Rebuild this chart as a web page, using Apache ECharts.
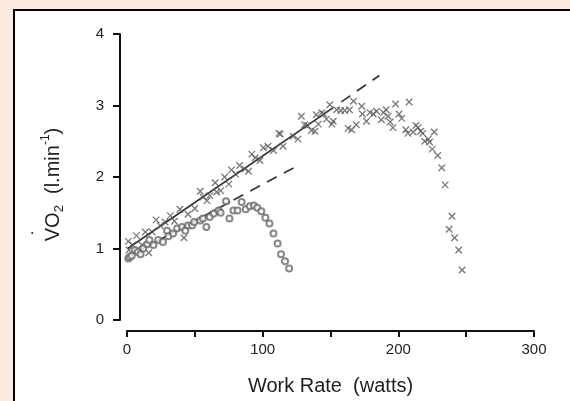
<!DOCTYPE html>
<html>
<head>
<meta charset="utf-8">
<script src="https://cdn.jsdelivr.net/npm/echarts@6/dist/echarts.min.js"></script>
<style>
  html, body { margin:0; padding:0; width:570px; height:401px; overflow:hidden; background:#fdebdf; }
  #chart { position:absolute; left:0; top:0; width:570px; height:401px; }
</style>
</head>
<body>
<div id="chart"></div>
<script>
// Tick labels
const xTicks = [0, 100, 200, 300];
const yTicks = [0, 1, 2, 3, 4];

// Upper test (crosses): [work rate W, VO2 l/min]
const crosses = [
  [1,1.10],[1.5,0.98],[4,1.05],[7,1.18],[11,1.05],[13.5,1.23],[16,0.94],[18.5,1.23],[21.5,1.40],[24.5,1.32],
  [28,1.37],[32,1.46],[35,1.38],[39,1.55],[42,1.15],[45,1.48],[50,1.56],[54,1.80],[56,1.72],[59,1.67],
  [61,1.74],[65,1.92],[66,1.79],[69,1.81],[72,2.00],[75,1.90],[77,2.10],[80,2.04],[83,2.16],[87,2.11],
  [89.5,2.08],[92,2.32],[94.5,2.27],[98,2.23],[100.5,2.41],[104,2.43],[108,2.37],[112,2.61],[113,2.60],[115,2.43],
  [122.5,2.57],[126,2.53],[128.5,2.85],[131,2.73],[133,2.72],[136,2.65],[138.5,2.64],[139.5,2.87],[141,2.74],[143.5,2.90],
  [145,2.88],[147,2.81],[149.5,3.01],[151,2.74],[152,2.78],[154.5,2.94],[157.5,2.93],[160.5,2.93],[164,2.94],[163,2.68],
  [165.5,2.66],[167,3.06],[169,2.73],[173,2.99],[173.5,2.88],[176.5,2.78],[179,2.90],[181.5,2.88],[184,2.92],[187.5,2.80],
  [189,2.90],[191,2.94],[192.5,2.85],[194,2.77],[196,2.69],[198,3.02],[200.5,2.88],[202.5,2.82],[205.5,2.66],[207,2.61],
  [208,3.05],[211,2.63],[213,2.72],[214.5,2.69],[216.5,2.64],[218,2.61],[219.5,2.50],[222,2.53],[223,2.49],[226.5,2.63],
  [225,2.39],[229,2.30],[232,2.13],[234.5,1.89],[239.5,1.45],[237.5,1.27],[241.5,1.15],[244.5,0.98],[247,0.70]
];

// Lower test (circles)
const circles = [
  [1,0.86],[2,0.88],[3.5,0.90],[6,0.98],[8,0.95],[10,0.92],[12,1.00],[15,1.06],[16.5,1.12],[19.5,1.05],
  [23,1.12],[26.5,1.09],[29.5,1.25],[30.5,1.17],[34,1.21],[37,1.28],[40.5,1.30],[43,1.25],[45,1.32],[48,1.32],
  [49.5,1.37],[54,1.39],[56,1.42],[58.5,1.30],[61,1.44],[64,1.49],[67.5,1.53],[69,1.50],[73,1.66],[75.5,1.42],
  [78.5,1.53],[81.5,1.53],[84.5,1.65],[87.5,1.55],[90.5,1.59],[93.5,1.60],[96,1.57],[99,1.52],[102,1.43],[105,1.35],
  [108,1.21],[111,1.07],[113.5,0.92],[116.5,0.82],[119.5,0.72]
];

// Regression lines (solid fit) and extrapolations (dashed)
const upperFit = [[0.5,1.00],[152,2.97]];
const upperExt = [[158,3.05],[186,3.42]];
const lowerFit = [[0.5,0.885],[76,1.65]];
const lowerExt = [[78.5,1.68],[123,2.13]];

const chart = echarts.init(document.getElementById('chart'), null, {renderer:'canvas'});
const FONT = '"Liberation Sans", Arial, sans-serif';
const ink = '#111';
const textColor = '#1e1e1e';
const markColor = '#555';
const circleColor = '#6a6a6a';
const lineColor = '#333';

function lineSeries(data, dashed) {
  return {
    type:'line', data:data, showSymbol:false, symbol:'none', silent:true, z:2,
    lineStyle:{ color:lineColor, width:1.7, type: dashed ? [11,8] : 'solid' }
  };
}

chart.setOption({
  animation:false,
  backgroundColor:'#fdebdf',
  grid:{ left:127, right:36, top:34, bottom:79, containLabel:false },
  xAxis:{
    type:'value', min:0, max:300, interval:50, offset:11,
    axisLine:{ show:true, onZero:false, lineStyle:{ color:ink, width:2 } },
    axisTick:{ show:true, inside:false, length:6, lineStyle:{ color:ink, width:2 } },
    splitLine:{ show:false },
    axisLabel:{ margin:11, color:textColor, fontFamily:FONT, fontSize:15,
      formatter: v => xTicks.indexOf(v) >= 0 ? String(v) : '' },
    name:'Work Rate  (watts)', nameLocation:'middle', nameGap:45,
    nameTextStyle:{ color:textColor, fontFamily:FONT, fontSize:20 }
  },
  yAxis:{
    type:'value', min:0, max:4, interval:1, offset:7,
    axisLine:{ show:true, onZero:false, lineStyle:{ color:ink, width:2 } },
    axisTick:{ show:true, inside:false, length:7, lineStyle:{ color:ink, width:2 } },
    splitLine:{ show:false },
    axisLabel:{ margin:16, color:textColor, fontFamily:FONT, fontSize:15,
      formatter: v => yTicks.indexOf(v) >= 0 ? String(v) : '' },
    name:'VO{sub|2}  (l.min{sup|-1})', nameLocation:'middle', nameGap:54, nameRotate:90,
    nameTextStyle:{ color:textColor, fontFamily:FONT, fontSize:20, lineHeight:26, padding:[0,15,0,0],
      rich:{
        sub:{ fontSize:13, fontFamily:FONT, color:textColor, verticalAlign:'bottom', lineHeight:26 },
        sup:{ fontSize:12, fontFamily:FONT, color:textColor, verticalAlign:'top', lineHeight:24 }
      } }
  },
  graphic:[
    { type:'rect', z:-10, silent:true, shape:{ x:14, y:10, width:600, height:450 },
      style:{ fill:'#fff' } },
    { type:'line', z:-9, silent:true, shape:{ x1:14, y1:9, x2:14, y2:460 },
      style:{ stroke:'#000', lineWidth:2 } },
    { type:'line', z:-9, silent:true, shape:{ x1:13, y1:10, x2:620, y2:10 },
      style:{ stroke:'#000', lineWidth:2 } },
    { type:'text', left:31, top:230, silent:true,
      style:{ text:'\u2022', font:'7px ' + FONT, fill:textColor } }
  ],
  series:[
    lineSeries(upperFit,false), lineSeries(upperExt,true),
    lineSeries(lowerFit,false), lineSeries(lowerExt,true),
    { type:'scatter', data:crosses, z:3, symbol:'path://M0,0L10,10M10,0L0,10', symbolSize:6.5,
      itemStyle:{ color:'transparent', borderColor:markColor, borderWidth:1.3 } },
    { type:'scatter', data:circles, z:3, symbol:'emptyCircle', symbolSize:6,
      itemStyle:{ color:circleColor, borderColor:circleColor, borderWidth:1 } }
  ]
});
</script>
</body>
</html>
